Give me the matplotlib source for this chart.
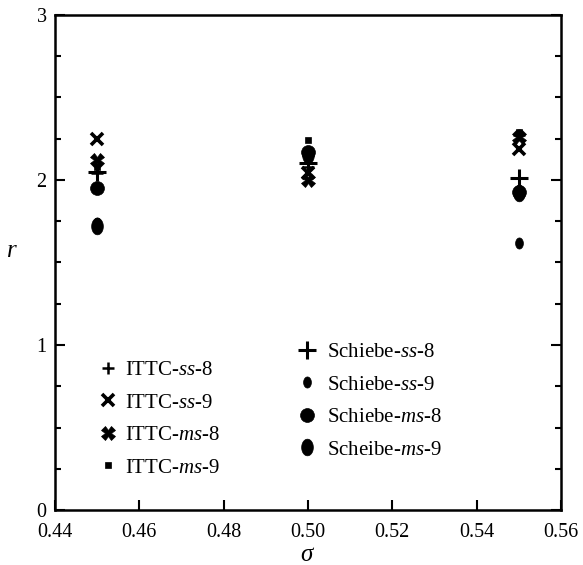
import matplotlib
matplotlib.use("Agg")
import matplotlib.pyplot as plt
from matplotlib.lines import Line2D
from matplotlib.ticker import MultipleLocator
import numpy as np

plt.rcParams['font.family'] = ['Liberation Serif', 'DejaVu Serif']
plt.rcParams['mathtext.fontset'] = 'custom'
plt.rcParams['mathtext.rm'] = 'Liberation Serif'
plt.rcParams['mathtext.it'] = 'Liberation Serif:italic'

# cavitation number for each cluster
sigma = [0.45, 0.50, 0.55]

# r values
ittc_ss_8 = [2.04, 2.08, 2.27]
ittc_ss_9 = [2.25, 2.04, 2.19]
ittc_ms_8 = [2.12, 2.00, 2.26]
ittc_ms_9 = [2.08, 2.24, 2.29]
schiebe_ss_8 = [2.05, 2.10, 2.01]
schiebe_ss_9 = [1.74, 2.14, 1.62]
schiebe_ms_8 = [1.95, 2.17, 1.93]
schiebe_ms_9 = [1.72, 2.15, 1.92]

x_ticks = [0.44, 0.46, 0.48, 0.50, 0.52, 0.54, 0.56]
y_ticks = [0, 1, 2, 3]

ittc_labels = ['ITTC-$ss$-8', 'ITTC-$ss$-9', 'ITTC-$ms$-8', 'ITTC-$ms$-9']
schiebe_labels = ['Schiebe-$ss$-8', 'Schiebe-$ss$-9', 'Schiebe-$ms$-8', 'Scheibe-$ms$-9']

# vertical ellipse marker
t = np.linspace(0, 2 * np.pi, 40)
ellipse = np.column_stack([0.7 * np.cos(t), np.sin(t)])

ittc_styles = [
    dict(marker='+', markersize=9, markeredgewidth=1.8),
    dict(marker='x', markersize=8, markeredgewidth=2.6),
    dict(marker='X', markersize=10, markeredgewidth=0.5),
    dict(marker='s', markersize=5, markeredgewidth=0.5),
]
schiebe_styles = [
    dict(marker='+', markersize=13, markeredgewidth=2.2),
    dict(marker=ellipse, markersize=8, markeredgewidth=0.5),
    dict(marker='o', markersize=10, markeredgewidth=0.5),
    dict(marker=ellipse, markersize=12, markeredgewidth=0.5),
]

fig = plt.figure(figsize=(5.83, 5.65), dpi=100)
ax = fig.add_axes([0.0943, 0.0973, 0.868, 0.8762])

ittc = [ittc_ss_8, ittc_ss_9, ittc_ms_8, ittc_ms_9]
schiebe = [schiebe_ss_8, schiebe_ss_9, schiebe_ms_8, schiebe_ms_9]

for vals, st in zip(ittc, ittc_styles):
    ax.plot(sigma, vals, linestyle='none', color='black', **st)
for vals, st in zip(schiebe, schiebe_styles):
    ax.plot(sigma, vals, linestyle='none', color='black', **st)

ax.set_xlim(0.44, 0.56)
ax.set_ylim(0, 3)
ax.set_xticks(x_ticks)
ax.set_xticklabels(['%.2f' % v for v in x_ticks])
ax.set_yticks(y_ticks)
ax.yaxis.set_minor_locator(MultipleLocator(0.25))

ax.tick_params(axis='both', which='major', direction='in', length=7, width=1.5,
               labelsize=14.5, right=True, top=False)
ax.tick_params(axis='y', which='minor', direction='in', length=4, width=1.5, right=True)
ax.tick_params(axis='x', pad=9)
ax.tick_params(axis='y', pad=6)
for s in ax.spines.values():
    s.set_linewidth(1.8)

ax.set_xlabel(r'$\sigma$', fontsize=18, labelpad=2)
ax.set_ylabel(r'$r$', fontsize=18, rotation=0)
ax.yaxis.set_label_coords(-0.085, 0.5)

h1 = [Line2D([], [], linestyle='none', color='black', **st) for st in ittc_styles]
h2 = [Line2D([], [], linestyle='none', color='black', **st) for st in schiebe_styles]

leg1 = ax.legend(h1, ittc_labels, loc='upper left', bbox_to_anchor=(0.084, 0.302),
                 frameon=False, fontsize=15, handlelength=1.0, handletextpad=0.3,
                 labelspacing=0.62, borderaxespad=0, borderpad=0)
ax.add_artist(leg1)
ax.legend(h2, schiebe_labels, loc='upper left', bbox_to_anchor=(0.477, 0.338),
          frameon=False, fontsize=15, handlelength=1.0, handletextpad=0.45,
          labelspacing=0.62, borderaxespad=0, borderpad=0)

fig.savefig('out.png', dpi=100)
